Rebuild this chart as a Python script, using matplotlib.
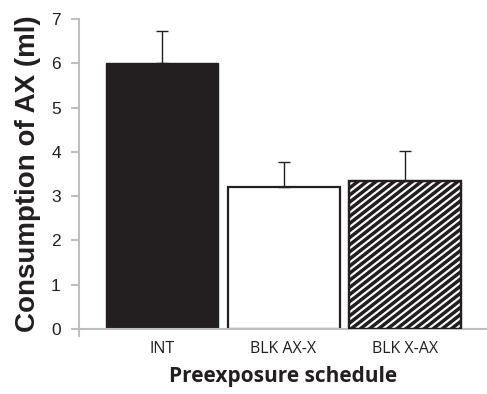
import numpy as np
import matplotlib
matplotlib.use("Agg")
import matplotlib.pyplot as plt
from matplotlib.lines import Line2D
from matplotlib.transforms import IdentityTransform

groups = ["INT", "BLK AX-X", "BLK X-AX"]
consumption = [6.0, 3.2, 3.34]
sem = [0.72, 0.58, 0.68]

fig = plt.figure(figsize=(4.87, 3.94), dpi=100)
ax = fig.add_axes([0.162, 0.165, 0.838, 0.787])

x = np.arange(len(groups))
faces = ["#231f20", "white", "white"]
bars = []
for i in range(len(groups)):
    b = ax.bar(x[i], consumption[i], width=0.92, color=faces[i], edgecolor="#231f20",
               linewidth=1.6 if i else 1.0, zorder=2)
    bars.append(b[0])
ax.errorbar(x, consumption, yerr=[np.zeros(len(sem)), sem], fmt="none",
            ecolor="#231f20", elinewidth=1.0, capsize=4, capthick=1.0, zorder=3)

ax.set_xlim(-0.68, 2.67)
ax.set_ylim(0, 7)

# diagonal stripes on the third bar, drawn in pixel space and clipped to the bar
stripe_bar = bars[2]
bb = stripe_bar.get_window_extent()
ang = np.deg2rad(38)
step = 5.6 / np.sin(ang)  # horizontal distance between stripes
span = bb.height / np.tan(ang)
for x0 in np.arange(bb.x0 - span - step, bb.x1 + step, step):
    ln = Line2D([x0, x0 + span + 20], [bb.y0, bb.y1 + 20 * np.tan(ang)],
                transform=IdentityTransform(), color="#231f20", lw=2.5, zorder=2.5)
    ln.set_clip_path(stripe_bar)
    fig.add_artist(ln)
# redraw outline on top of stripes
ax.bar(x[2], consumption[2], width=0.92, fill=False, edgecolor="#231f20", linewidth=1.6, zorder=2.6)

ax.set_yticks(range(8))
ax.set_xticks(x)
ax.set_xticklabels(groups, fontfamily="Open Sans", fontsize=11.5, color="#231f20")
ax.set_xticks([-0.68], minor=True)
ax.tick_params(axis="x", which="major", length=0, pad=9)
ax.tick_params(axis="x", which="minor", length=6, color="#bfbfbf", width=1.5)
ax.tick_params(axis="y", length=6, color="#bfbfbf", width=1.5, labelsize=12.5,
               labelcolor="#231f20", pad=7)
for lab in ax.get_yticklabels():
    lab.set_fontfamily("Liberation Sans")

for s in ["top", "right"]:
    ax.spines[s].set_visible(False)
for s in ["left", "bottom"]:
    ax.spines[s].set_color("#bfbfbf")
    ax.spines[s].set_linewidth(1.5)

ax.set_ylabel("Consumption of AX (ml)", fontfamily="Liberation Sans", fontweight="bold",
              fontsize=20, color="#231f20", labelpad=7)
ax.set_xlabel("Preexposure schedule", fontfamily="Open Sans", fontweight="bold",
              fontsize=15, color="#231f20", labelpad=6)

fig.savefig("out.png", dpi=100)
